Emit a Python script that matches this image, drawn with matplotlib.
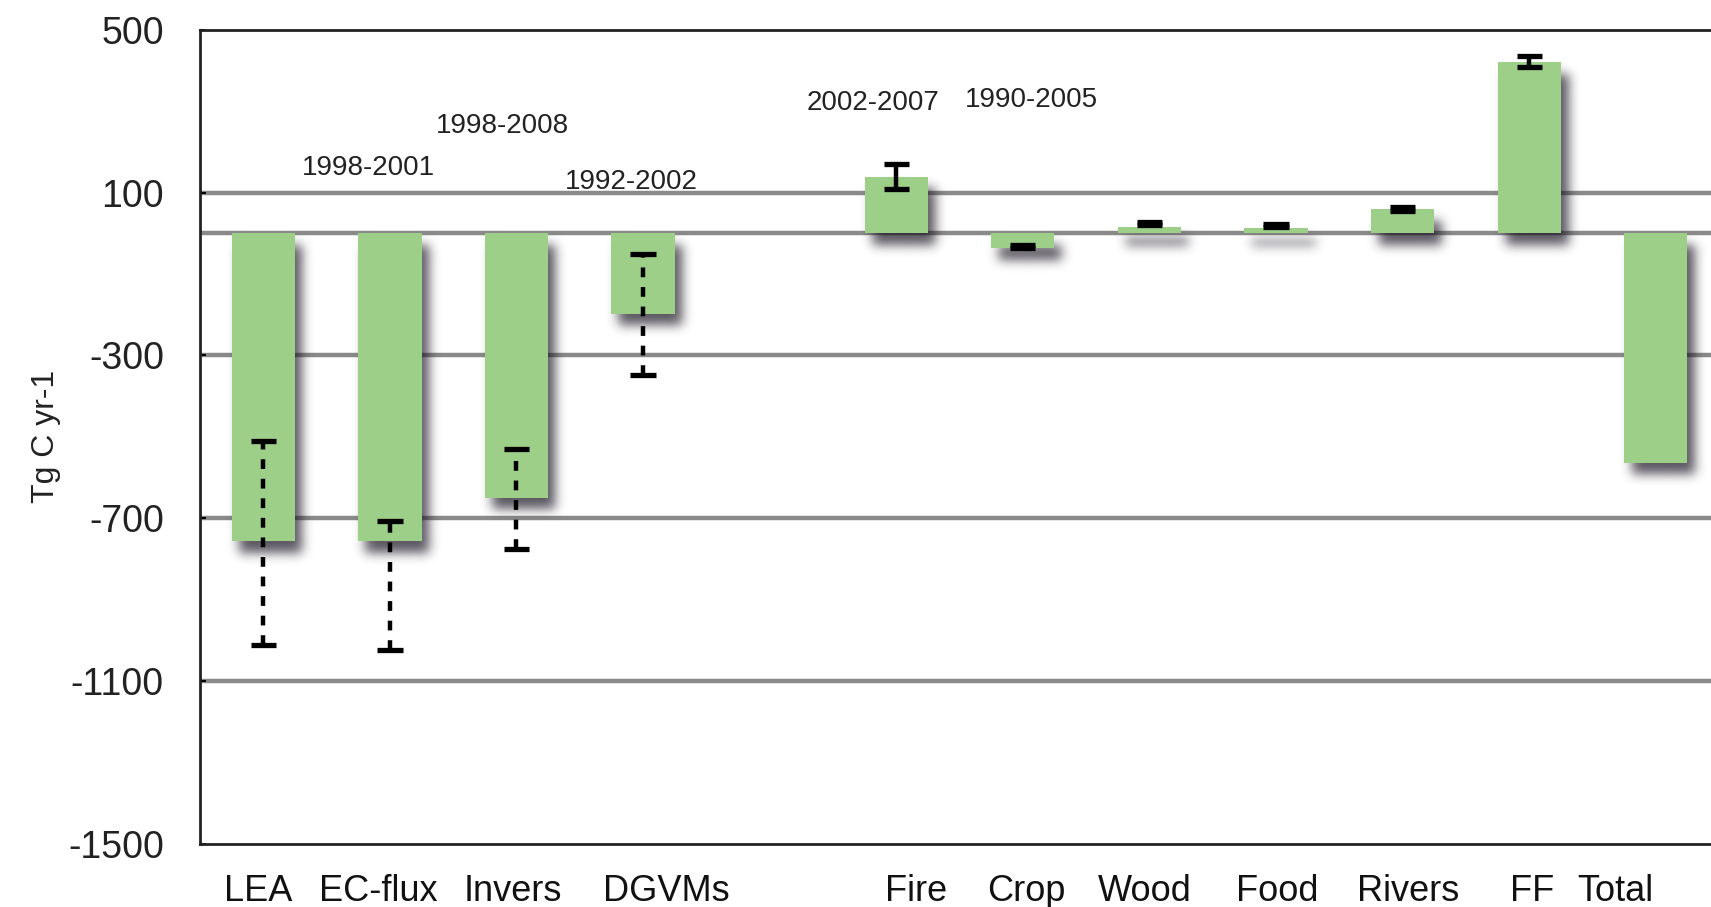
import matplotlib
matplotlib.use("Agg")
import matplotlib.pyplot as plt
import matplotlib.colors as mcolors
import numpy as np

plt.rcParams['font.family'] = ['Liberation Sans', 'DejaVu Sans']

# Carbon budget components (Tg C yr-1)
categories = ["LEA", "EC-flux", "Invers", "DGVMs", "Fire", "Crop", "Wood",
              "Food", "Rivers", "FF", "Total"]
values = [-757, -757, -650, -198, 139, -37, 16, 13, 59, 420, -564]
err_low = [-1011, -1024, -775, -348, 110, -36, 20, 15, 54, 410, None]
err_high = [-511, -706, -529, -51, 171, -28, 28, 23, 64, 436, None]
dashed_err = [True, True, True, True, False, False, False, False, False, False, False]
periods = ["1998-2001", "1998-2008", "1992-2002", "2002-2007", "1990-2005"]
yticks = [500, 100, -300, -700, -1100, -1500]

# slot 4 is left empty between the two groups
bar_x = [0, 1, 2, 3, 5, 6, 7, 8, 9, 10, 11]
bar_w = 0.5
label_x = [-0.04, 0.91, 1.97, 3.18, 5.16, 6.03, 6.96, 8.01, 9.04, 10.02, 10.68]
period_xy = [(0.83, 160), (1.89, 264), (2.91, 126), (4.82, 320), (6.07, 328)]

fig = plt.figure(figsize=(17.11, 9.07), dpi=100)
ax = fig.add_axes([0.1169, 0.070, 0.8878, 0.897])

xlim = (-0.5, 11.5)
ylim = (-1500, 500)
ax.set_xlim(*xlim)
ax.set_ylim(*ylim)

# horizontal reference lines
for y in [100, 0, -300, -700, -1100]:
    ax.axhline(y, color="#8a8a8a", lw=3.2, zorder=1)


def gaussian_blur(img, sigma):
    r = int(3 * sigma)
    k = np.exp(-0.5 * (np.arange(-r, r + 1) / sigma) ** 2)
    k /= k.sum()
    img = np.apply_along_axis(lambda v: np.convolve(v, k, mode="same"), 0, img)
    img = np.apply_along_axis(lambda v: np.convolve(v, k, mode="same"), 1, img)
    return img


# blurred drop shadow, rasterised at the axes' pixel resolution
bbox = ax.bbox
W, H = int(round(bbox.width)), int(round(bbox.height))
mask = np.zeros((H, W))
shift_x, shift_y = 7, -11
for x, v in zip(bar_x, values):
    (px0, py0), (px1, py1) = ax.transData.transform([(x - bar_w / 2, min(0, v)),
                                                     (x + bar_w / 2, max(0, v))])
    c0 = int(round(px0 - bbox.x0 + shift_x))
    c1 = int(round(px1 - bbox.x0 + shift_x))
    r0 = int(round(py0 - bbox.y0 + shift_y))
    r1 = int(round(py1 - bbox.y0 + shift_y))
    mask[max(r0, 0):max(r1, 0), max(c0, 0):max(c1, 0)] = 1.0
soft = gaussian_blur(mask, 5.5)
rgba = np.zeros((H, W, 4))
rgba[..., :3] = mcolors.to_rgb("#1c1624")
rgba[..., 3] = np.clip(soft * 0.72, 0, 1)
ax.imshow(rgba, extent=(*xlim, *ylim), origin="lower", aspect="auto",
          interpolation="bilinear", zorder=2)
ax.set_xlim(*xlim)
ax.set_ylim(*ylim)

ax.bar(bar_x, values, width=bar_w, color="#9dcf88", edgecolor="none", zorder=3)

for x, lo, hi, d in zip(bar_x, err_low, err_high, dashed_err):
    if lo is None:
        continue
    ls = (0, (2.2, 2.2)) if d else "-"
    ax.plot([x, x], [lo, hi], color="black", lw=3.2, ls=ls, zorder=5,
            solid_capstyle="butt", dash_capstyle="butt")
    for y in (lo, hi):
        ax.plot([x - 0.1, x + 0.1], [y, y], color="black", lw=3.8, zorder=5,
                solid_capstyle="butt")

for txt, (px, py) in zip(periods, period_xy):
    ax.text(px, py, txt, ha="center", va="center", fontsize=20, color="#222222",
            zorder=6)

ax.set_yticks(yticks)
ax.set_yticklabels([str(t) for t in yticks], fontsize=27, color="#222222")
ax.tick_params(axis="y", length=4, width=1.5, pad=26, direction="in")
ax.set_xticks(label_x)
ax.set_xticklabels(categories, fontsize=26, color="#111111")
ax.tick_params(axis="x", length=0, pad=22)
ax.set_ylabel("Tg C yr-1", fontsize=23, labelpad=5, color="#222222")

for s in ["left", "bottom", "top"]:
    ax.spines[s].set_linewidth(2.0)
    ax.spines[s].set_color("#222222")
ax.spines["right"].set_visible(False)

fig.savefig("out.png", dpi=100)
